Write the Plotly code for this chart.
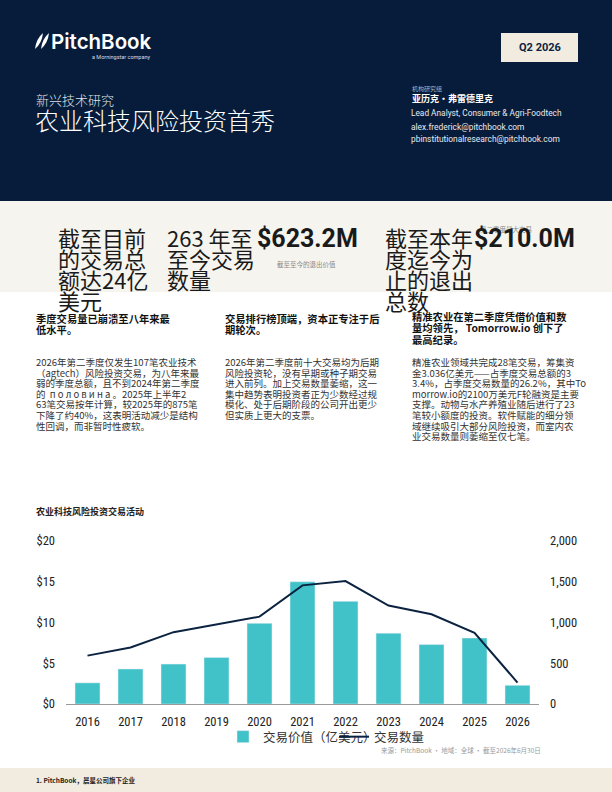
import plotly.graph_objects as go

# ---------------- data ----------------
years = ["2016", "2017", "2018", "2019", "2020", "2021", "2022", "2023", "2024", "2025", "2026"]
deal_value_b = [2.6, 4.3, 4.9, 5.7, 9.9, 15.0, 12.6, 8.7, 7.3, 8.1, 2.3]   # 交易价值（亿美元）
deal_count = [594, 693, 882, 977, 1072, 1456, 1509, 1208, 1101, 875, 263]  # 交易数量
left_ticks = [0, 5, 10, 15, 20]
left_tick_text = ["$0", "$5", "$10", "$15", "$20"]
right_ticks = [0, 500, 1000, 1500, 2000]
right_tick_text = ["0", "500", "1,000", "1,500", "2,000"]

W, H = 612, 792
CJK = "Noto Sans CJK SC"
LAT = "Roboto, Inter, sans-serif"
COND = "Roboto Condensed, DejaVu Sans Condensed, Liberation Sans Narrow, Roboto, sans-serif"
NAVY = "#071c3a"
TEAL = "#40c2c8"


def X(px):
    return px / W


def Y(py):
    real = (py - 8) / 0.981
    return 1 - real / H


fig = go.Figure()
fig.add_trace(go.Bar(x=years, y=deal_value_b, name="交易价值（亿美元）", marker_color=TEAL,
                     width=0.58, yaxis="y"))
fig.add_trace(go.Scatter(x=years, y=deal_count, name="交易数量", mode="lines",
                         line=dict(color="#0b2341", width=2), yaxis="y2"))

shapes = []


def rect(x0, y0, x1, y1, color, layer="below"):
    shapes.append(dict(type="rect", xref="paper", yref="paper", x0=X(x0), x1=X(x1),
                       y0=Y(y1), y1=Y(y0), fillcolor=color, line=dict(width=0), layer=layer))


rect(0, 0, 612, 201, NAVY)
rect(0, 201, 612, 292, "#f6f4ee")
rect(0, 768, 612, 800, "#f1ebe0")
rect(501, 33, 578, 62, "#f1ebe0", "above")


def path(points):
    s = ""
    for cmd, pts in points:
        s += cmd + " ".join(f"{X(a):.5f},{Y(b):.5f}" for a, b in pts) + " "
    return s + "Z"


for dx in (0, 6):
    shapes.append(dict(type="path", xref="paper", yref="paper",
                       path=path([("M", [(35 + dx, 49)]), ("Q", [(36 + dx, 39), (43 + dx, 33)]),
                                  ("Q", [(42 + dx, 43), (35 + dx, 49)])]),
                       fillcolor="white", line=dict(width=0), layer="above"))

ann = []


def txt(x, y, s, size, color="#222", family=CJK, weight="normal", xanchor="left"):
    ann.append(dict(x=X(x), y=Y(y), xref="paper", yref="paper", text=s, showarrow=False,
                    xanchor=xanchor, yanchor="middle", align=xanchor if xanchor != "center" else "center",
                    borderpad=0,
                    font=dict(size=size, color=color, family=family, weight=weight)))


# header
txt(50, 41, "PitchBook", 20.5, "white", "Inter, Roboto, sans-serif", 600)
txt(151, 57, "a Morningstar company", 5.5, "#d8dce4", LAT, xanchor="right")
txt(539.5, 47.5, "Q2 2026", 11, "#0b2341", LAT, "bold", xanchor="center")
txt(35, 99.5, "新兴技术研究", 13, "#dfe3ea", CJK, 300)
txt(34, 119, "农业科技风险投资首秀", 24, "white", CJK, 300)
txt(411, 88, "机构研究组", 6, "#aab3c2")
txt(411, 98, "亚历克・弗雷德里克", 9, "white", CJK, "bold")
txt(410, 113, "Lead Analyst, Consumer &amp; Agri-Foodtech", 8.3, "#e8eaee", LAT)
txt(410, 127, "alex.frederick@pitchbook.com", 8.4, "#e8eaee", LAT)
txt(410, 139, "pbinstitutionalresearch@pitchbook.com", 8.4, "#e8eaee", LAT)

# stats band
big = 22
for i, s in enumerate(["截至目前", "的交易总", "额达24亿", "美元"]):
    txt(57, 237 + 21 * i, s, big, "#1a1a1a")
for i, s in enumerate(["263 年至", "至今交易", "数量"]):
    txt(166, 237 + 21 * i, s, big, "#1a1a1a")
txt(256, 238, "$623.2M", 25, "#1a1a1a", LAT, "bold")
txt(276, 264, "截至至今的退出价值", 6.5, "#8a8a8a")
txt(479, 229, "第二季度最大交易", 6.5, "#8a8a8a")
for i, s in enumerate(["截至本年", "度迄今为", "止的退出", "总数"]):
    txt(384, 237 + 21 * i, s, big, "#1a1a1a")
txt(473, 238, "$210.0M", 25, "#1a1a1a", LAT, "bold")

# text columns
HS, BS = 10.3, 9.5
col1_head = ["季度交易量已崩溃至八年来最", "低水平。"]
col1_body = ["2026年第二季度仅发生107笔农业技术", "（agtech）风险投资交易，为八年来最",
             "弱的季度总额，且不到2024年第二季度", "的  п о л о в и н а 。2025年上半年2",
             "63笔交易按年计算，较2025年的875笔", "下降了约40%，这表明活动减少是结构",
             "性回调，而非暂时性疲软。"]
col2_head = ["交易排行榜顶端，资本正专注于后", "期轮次。"]
col2_body = ["2026年第二季度前十大交易均为后期", "风险投资轮，没有早期或种子期交易",
             "进入前列。加上交易数量萎缩，这一", "集中趋势表明投资者正为少数经过规",
             "模化、处于后期阶段的公司开出更少", "但实质上更大的支票。"]
col3_head = ["精准农业在第二季度凭借价值和数", "量均领先， Tomorrow.io 创下了", "最高纪录。"]
col3_body = ["精准农业领域共完成28笔交易，筹集资", "金3.036亿美元——占季度交易总额的3",
             "3.4%，占季度交易数量的26.2%，其中To", "morrow.io的2100万美元F轮融资是主要",
             "支撑。动物与水产养殖业随后进行了23", "笔较小额度的投资。软件赋能的细分领",
             "域继续吸引大部分风险投资，而室内农", "业交易数量则萎缩至仅七笔。"]

for x0, head, body, hy in [(35, col1_head, col1_body, 318), (224, col2_head, col2_body, 318),
                           (411, col3_head, col3_body, 316)]:
    for i, s in enumerate(head):
        txt(x0, hy + 11.5 * i, s, HS, "#111", CJK, "bold")
    for i, s in enumerate(body):
        txt(x0, 362 + 10.6 * i, s, BS, "#333")

# chart title, source, footer
txt(35, 511, "农业科技风险投资交易活动", 9, "#222", CJK, "bold")
txt(542, 750, "来源：PitchBook • 地域：全球 • 截至2026年6月30日", 6.5, "#9a9a9a", xanchor="right")
txt(35, 780, "1. PitchBook，晨星公司旗下企业", 6.5, "#222", CJK, "bold")

fig.update_layout(
    width=W, height=H, margin=dict(l=0, r=0, t=0, b=0),
    paper_bgcolor="white", plot_bgcolor="white",
    shapes=shapes, annotations=ann, bargap=0.42,
    xaxis=dict(domain=[X(66), X(539)], type="category", showline=True, linecolor="#9a9a9a",
               linewidth=1, showgrid=False, ticks="", ticklabelstandoff=6,
               tickfont=dict(size=12.5, color="#222", family=COND)),
    yaxis=dict(domain=[Y(704), Y(541)], range=[0, 20], tickvals=left_ticks, ticktext=left_tick_text,
               showgrid=False, zeroline=False, showline=False, ticklabelstandoff=10,
               tickfont=dict(size=12.5, color="#222", family=COND)),
    yaxis2=dict(overlaying="y", side="right", range=[0, 2000], tickvals=right_ticks,
                ticktext=right_tick_text, showgrid=False, zeroline=False, showline=False,
                ticklabelstandoff=10, tickfont=dict(size=12.5, color="#222", family=COND)),
    legend=dict(orientation="h", x=X(223), xanchor="left", y=Y(737), yanchor="middle",
                entrywidth=66, entrywidthmode="pixels",
                font=dict(size=12.5, color="#333", family=CJK), bgcolor="rgba(0,0,0,0)"),
    showlegend=True,
)

fig.write_html("out.html", config={"displayModeBar": False},
               post_script="document.documentElement.style.margin='0';document.body.style.margin='0';document.body.style.overflow='hidden';document.documentElement.style.overflow='hidden';")
